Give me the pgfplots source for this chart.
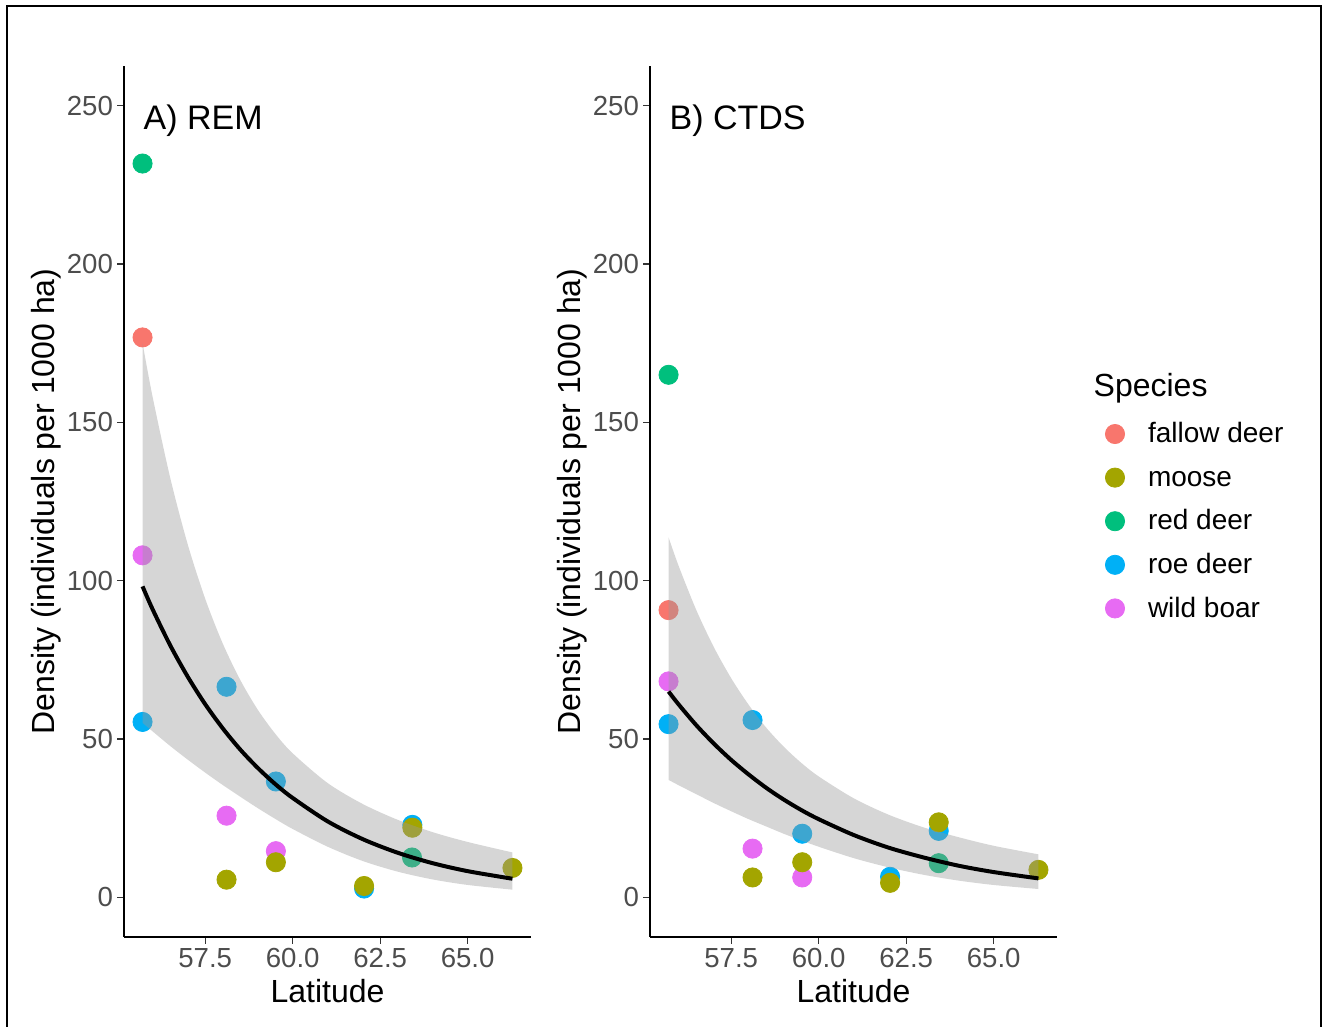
\documentclass[border=0pt]{standalone}
\usepackage{fontspec}
\setmainfont{Liberation Sans}
\usepackage{pgfplots}
\usepackage{pgfplotstable}
\pgfplotsset{compat=1.18}
\usepgfplotslibrary{fillbetween}

\definecolor{cFal}{HTML}{F8766D}
\definecolor{cMoo}{HTML}{A3A500}
\definecolor{cRed}{HTML}{00BF7D}
\definecolor{cRoe}{HTML}{00B0F6}
\definecolor{cBoa}{HTML}{E76BF3}
\definecolor{tickgray}{HTML}{4D4D4D}
\definecolor{ribbon}{HTML}{999999}

% lat  fit  lower  upper
\pgfplotstableread{
lat fit lo up
55.71 98.2 55.1 175.0
56.0 90.9 52.4 157.9
56.5 79.6 47.8 132.5
57.0 69.7 43.5 111.5
57.5 61.0 39.4 94.3
58.0 53.4 35.5 80.2
58.5 46.7 31.8 68.7
59.0 40.9 28.2 59.3
59.5 35.8 24.8 51.7
60.0 31.4 21.6 45.5
61.0 24.0 16.0 36.1
62.0 18.4 11.5 29.5
63.0 14.1 8.13 24.5
64.0 10.8 5.67 20.6
65.0 8.29 3.93 17.5
66.28 5.89 2.44 14.2
}\fitA

\pgfplotstableread{
lat fit lo up
55.71 65.0 37.1 113.7
56.0 60.9 35.4 104.6
56.5 54.4 32.6 90.8
57.0 48.6 29.8 79.1
57.5 43.4 27.2 69.2
58.0 38.8 24.7 60.8
58.5 34.6 22.4 53.6
59.0 30.9 20.1 47.6
59.5 27.6 18.0 42.5
60.0 24.7 16.0 38.2
61.0 19.7 12.4 31.3
62.0 15.7 9.48 26.1
63.0 12.6 7.13 22.1
64.0 10.0 5.30 19.0
65.0 8.00 3.92 16.3
66.28 6.00 2.65 13.6
}\fitB

\pgfplotsset{
  panel/.style={
    set layers,
    scale only axis, width=203.5pt, height=435.5pt, anchor=south west,
    xmin=55.18, xmax=66.81, ymin=-12.5, ymax=262.5,
    axis x line*=bottom, axis y line*=left,
    axis line style={line width=1.1pt, black, -},
    xtick={57.5,60,62.5,65}, xticklabels={57.5,60.0,62.5,65.0},
    ytick={0,50,100,150,200,250},
    tick align=outside, major tick length=3.5pt,
    tick style={line width=0.6pt, color=black!80},
    tick label style={font=\fontsize{13.8}{16}\selectfont, text=tickgray},
    xticklabel style={yshift=1.5pt},
    yticklabel style={xshift=1.5pt},
    /pgf/number format/assume math mode=true,
  },
  pt/.style={only marks, mark=*, mark size=4.8pt, color=#1, forget plot},
}

\begin{document}
\begin{tikzpicture}
\begin{scope}[x=0.5pt, y=-0.5pt, shift={(0pt,513.5pt)}]
  \useasboundingbox (0,0) rectangle (1322,1027);
  \draw[line width=1pt] (6.5,1030) -- (6.5,6.5) -- (1320.5,6.5) -- (1320.5,1030);
\end{scope}

% ---------------- Panel A ----------------
\begin{axis}[panel, at={(62pt,45pt)}]
  \addplot[pt=cFal] coordinates {(55.71,176.8)};
  \addplot[pt=cRed] coordinates {(55.71,231.7) (63.41,12.6)};
  \addplot[pt=cRoe] coordinates {(55.71,55.4) (58.11,66.5) (59.52,36.6) (62.04,2.8) (63.42,22.9)};
  \addplot[pt=cBoa] coordinates {(55.71,108.0) (58.11,25.8) (59.52,14.6)};
  \addplot[pt=cMoo] coordinates {(58.11,5.6) (59.52,11.1) (62.04,3.6) (63.42,22.0) (66.28,9.3)};
  \addplot[draw=none, name path=upA, forget plot, smooth] table[x=lat, y=up] {\fitA};
  \addplot[draw=none, name path=loA, forget plot, smooth] table[x=lat, y=lo] {\fitA};
  \addplot[fill=ribbon, fill opacity=0.4, draw=none, forget plot] fill between[of=upA and loA, on layer=axis foreground];
  \addplot[black, line width=2pt, smooth, forget plot, on layer=axis foreground] table[x=lat, y=fit] {\fitA};
\end{axis}

% ---------------- Panel B ----------------
\begin{axis}[panel, at={(325pt,45pt)},
  legend style={at={(1.1179,0.6025)}, anchor=north west, draw=none, fill=none,
    inner sep=0pt, outer sep=0pt, row sep=0pt, column sep=0pt,
    font=\fontsize{14}{16}\selectfont,
    nodes={inner sep=0pt, text height=8.7pt, text depth=0pt}},
  legend cell align=left,
  legend image code/.code={\draw[#1] plot coordinates {(0pt,0pt)};
    \pgfpathrectanglecorners{\pgfpoint{-5pt}{-10.9pt}}{\pgfpoint{16.5pt}{10.9pt}}\pgfusepath{}},
]
  \addplot[pt=cFal] coordinates {(55.71,90.7)};
  \addplot[pt=cRed] coordinates {(55.71,165.0) (63.43,10.8)};
  \addplot[pt=cRoe] coordinates {(55.71,54.7) (58.11,56.0) (59.53,20.1) (62.04,6.5) (63.43,21.0)};
  \addplot[pt=cBoa] coordinates {(55.71,68.2) (58.11,15.4) (59.53,6.3)};
  \addplot[pt=cMoo] coordinates {(58.11,6.3) (59.53,11.1) (62.04,4.6) (63.43,23.7) (66.28,8.7)};
  \addplot[draw=none, name path=upB, forget plot, smooth] table[x=lat, y=up] {\fitB};
  \addplot[draw=none, name path=loB, forget plot, smooth] table[x=lat, y=lo] {\fitB};
  \addplot[fill=ribbon, fill opacity=0.4, draw=none, forget plot] fill between[of=upB and loB, on layer=axis foreground];
  \addplot[black, line width=2pt, smooth, forget plot, on layer=axis foreground] table[x=lat, y=fit] {\fitB};

  \addlegendimage{only marks, mark=*, mark size=4.8pt, color=cFal}
  \addlegendentry{fallow deer}
  \addlegendimage{only marks, mark=*, mark size=4.8pt, color=cMoo}
  \addlegendentry{moose}
  \addlegendimage{only marks, mark=*, mark size=4.8pt, color=cRed}
  \addlegendentry{red deer}
  \addlegendimage{only marks, mark=*, mark size=4.8pt, color=cRoe}
  \addlegendentry{roe deer}
  \addlegendimage{only marks, mark=*, mark size=4.8pt, color=cBoa}
  \addlegendentry{wild boar}
\end{axis}

\begin{scope}[x=0.5pt, y=-0.5pt, shift={(0pt,513.5pt)}]
  \node[anchor=base west, inner sep=0pt, font=\fontsize{17}{20}\selectfont] at (143.3,130) {A) REM};
  \node[anchor=base west, inner sep=0pt, font=\fontsize{17}{20}\selectfont] at (669.3,130) {B) CTDS};
  \node[anchor=base, inner sep=0pt, font=\fontsize{16}{19}\selectfont] at (327.5,1002.7) {Latitude};
  \node[anchor=base, inner sep=0pt, font=\fontsize{16}{19}\selectfont] at (853.5,1002.7) {Latitude};
  \node[anchor=base, rotate=90, inner sep=0pt, font=\fontsize{16}{19}\selectfont] at (54,501.5) {Density (individuals per 1000 ha)};
  \node[anchor=base, rotate=90, inner sep=0pt, font=\fontsize{16}{19}\selectfont] at (580,501.5) {Density (individuals per 1000 ha)};
  \node[anchor=base west, inner sep=0pt, font=\fontsize{16}{19}\selectfont] at (1093.3,396.7) {Species};
\end{scope}
\end{tikzpicture}
\end{document}
